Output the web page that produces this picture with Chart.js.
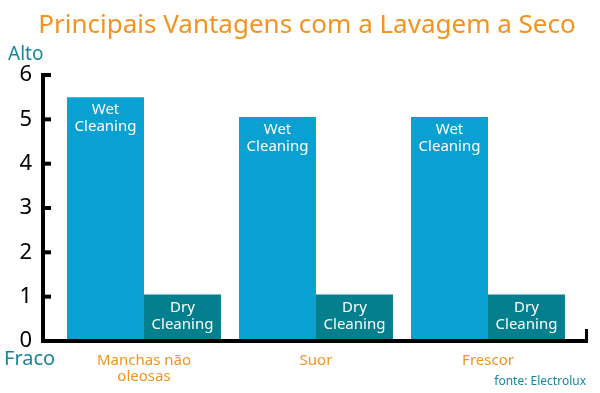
<!DOCTYPE html>
<html>
<head>
<meta charset="utf-8">
<script src="https://cdn.jsdelivr.net/npm/chart.js@4"></script>
<style>
  html, body { margin: 0; padding: 0; background: #fff; }
  #wrap { width: 600px; height: 393px; }
</style>
</head>
<body>
<div id="wrap"><canvas id="myChart" width="600" height="393"></canvas></div>
<script>
const categories = [['Manchas não', 'oleosas'], 'Suor', 'Frescor'];
const wetValues = [5.5, 5.05, 5.05];
const dryValues = [1.05, 1.05, 1.05];
const seriesNames = [['Wet', 'Cleaning'], ['Dry', 'Cleaning']];
const yTicks = [0, 1, 2, 3, 4, 5, 6];

const titleText = 'Principais Vantagens com a Lavagem a Seco';
const fontFamily = '"Noto Sans", "Open Sans", sans-serif';
const orange = '#F39320';
const teal = '#16879A';

// axes, titles and bar labels drawn by hand
const extras = {
    id: 'extras',
    afterDatasetsDraw(chart) {
        const ctx = chart.ctx;
        const area = chart.chartArea;
        const y = chart.scales.y;
        const axisX = area.left - 15;

        ctx.save();
        // bar labels
        ctx.fillStyle = '#fff';
        ctx.font = '15px ' + fontFamily;
        ctx.textAlign = 'center';
        ctx.textBaseline = 'middle';
        chart.data.datasets.forEach((ds, i) => {
            chart.getDatasetMeta(i).data.forEach(bar => {
                ctx.fillText(seriesNames[i][0], bar.x, bar.y + 13);
                ctx.fillText(seriesNames[i][1], bar.x, bar.y + 30);
            });
        });

        // axis lines
        ctx.strokeStyle = '#000';
        ctx.lineWidth = 4;
        ctx.beginPath();
        ctx.moveTo(axisX, y.getPixelForValue(6) - 2);
        ctx.lineTo(axisX, area.bottom);
        ctx.lineTo(area.right + 14, area.bottom);
        ctx.stroke();
        ctx.lineWidth = 3;
        ctx.beginPath();
        ctx.moveTo(area.right + 12.5, area.bottom);
        ctx.lineTo(area.right + 12.5, area.bottom - 12);
        ctx.stroke();
        ctx.lineWidth = 4;
        yTicks.forEach(v => {
            if (v === 0) return;
            const py = y.getPixelForValue(v);
            ctx.beginPath();
            ctx.moveTo(axisX, py);
            ctx.lineTo(axisX + 8, py);
            ctx.stroke();
        });

        // texts
        ctx.textBaseline = 'alphabetic';
        ctx.fillStyle = orange;
        ctx.font = '26px ' + fontFamily;
        ctx.fillText(titleText, 307, 33);

        ctx.fillStyle = teal;
        ctx.font = '19px ' + fontFamily;
        ctx.textAlign = 'left';
        ctx.fillText('Alto', 8, 60);
        ctx.font = '20px ' + fontFamily;
        ctx.fillText('Fraco', 4, 365);

        ctx.font = '12px ' + fontFamily;
        ctx.textAlign = 'right';
        ctx.fillText('fonte: Electrolux', 586, 385);
        ctx.restore();
    }
};

const myChart = new Chart(document.getElementById('myChart').getContext('2d'), {
    type: 'bar',
    data: {
        labels: categories,
        datasets: [{
            label: 'Wet Cleaning',
            data: wetValues,
            backgroundColor: '#0AA0D2',
            categoryPercentage: 0.895,
            barPercentage: 1.0
        }, {
            label: 'Dry Cleaning',
            data: dryValues,
            backgroundColor: '#047F8E',
            categoryPercentage: 0.895,
            barPercentage: 1.0
        }]
    },
    options: {
        responsive: false,
        animation: false,
        layout: { padding: { top: 75, right: 26, bottom: 0, left: 0 } },
        plugins: {
            legend: { display: false },
            tooltip: { enabled: false }
        },
        scales: {
            x: {
                grid: { display: false },
                border: { display: false },
                ticks: {
                    color: orange,
                    font: { family: fontFamily, size: 15, lineHeight: 1.1 },
                    padding: 3,
                    maxRotation: 0
                },
                afterFit(scale) { scale.height = 52; }
            },
            y: {
                min: 0,
                max: 6,
                grid: { display: false },
                border: { display: false },
                ticks: {
                    stepSize: 1,
                    color: '#000',
                    font: { family: fontFamily, size: 22 },
                    padding: 18
                },
                afterFit(scale) { scale.width = 58; }
            }
        }
    },
    plugins: [extras]
});
</script>
</body>
</html>
